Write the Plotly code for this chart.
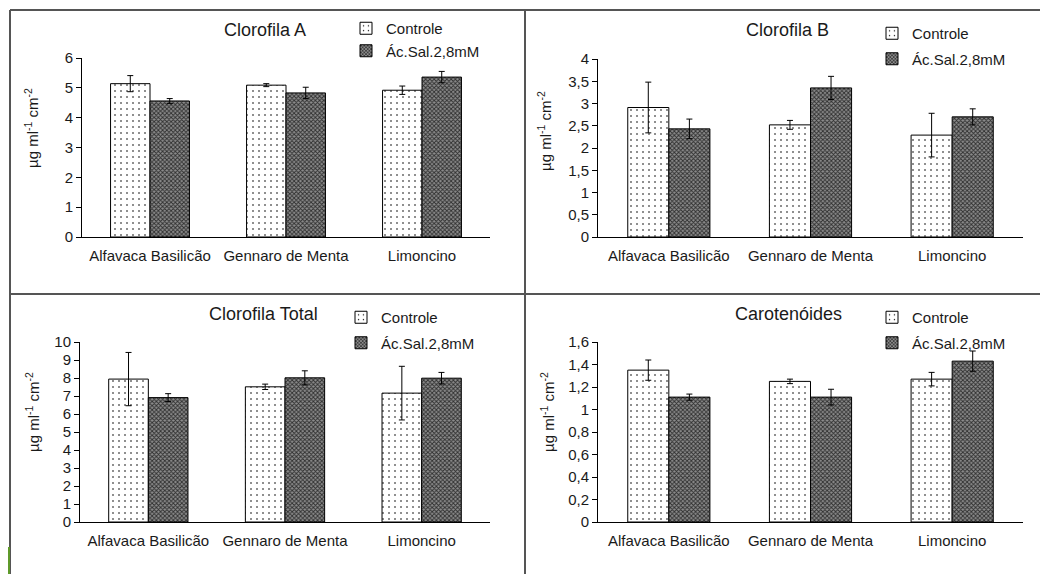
import plotly.graph_objects as go

W, H = 1040, 574

categories = ["Alfavaca Basilicão", "Gennaro de Menta", "Limoncino"]
series_names = ["Controle", "Ác.Sal.2,8mM"]
titles = ["Clorofila A", "Clorofila B", "Clorofila Total", "Carotenóides"]
y_title = "µg ml<sup>-1</sup> cm<sup>-2</sup>"

clA_ctrl = [5.14, 5.09, 4.92]
clA_ctrl_err = [0.27, 0.05, 0.14]
clA_sal = [4.56, 4.83, 5.36]
clA_sal_err = [0.08, 0.19, 0.19]

clB_ctrl = [2.91, 2.52, 2.29]
clB_ctrl_err = [0.57, 0.10, 0.49]
clB_sal = [2.43, 3.35, 2.70]
clB_sal_err = [0.22, 0.26, 0.18]

clT_ctrl = [7.94, 7.51, 7.16]
clT_ctrl_err = [1.48, 0.15, 1.49]
clT_sal = [6.91, 8.01, 7.99]
clT_sal_err = [0.22, 0.39, 0.32]

car_ctrl = [1.35, 1.25, 1.27]
car_ctrl_err = [0.09, 0.02, 0.06]
car_sal = [1.11, 1.11, 1.43]
car_sal_err = [0.027, 0.07, 0.09]

y_ranges = [[0, 6], [0, 4], [0, 10], [0, 1.6]]
y_dticks = [1, 0.5, 1, 0.2]

panels = [
    (clA_ctrl, clA_ctrl_err, clA_sal, clA_sal_err),
    (clB_ctrl, clB_ctrl_err, clB_sal, clB_sal_err),
    (clT_ctrl, clT_ctrl_err, clT_sal, clT_sal_err),
    (car_ctrl, car_ctrl_err, car_sal, car_sal_err),
]

# layout geometry in pixels (left, right, top, bottom)
dom_px = [(82, 490, 58, 237), (598, 1023, 59, 237), (80, 490, 342, 522), (598, 1023, 342, 522)]
title_px = [(265, 30), (787, 30), (263, 314), (788, 314)]
ytitle_px = [(32, 128), (544, 131), (32, 412), (547, 412)]
legend_px = [(346, 12), (872, 17), (341, 301), (872, 301)]
legend_gap = [0, 3, 3, 3]

FONT = "Liberation Sans, Arial, sans-serif"
TXT = "#1a1a1a"

fig = go.Figure()

ctrl_pattern = dict(shape=".", size=6, solidity=0.06, fgcolor="#000000", bgcolor="#ffffff", fillmode="replace")
sal_pattern = dict(shape="x", size=3, solidity=0.5, fgcolor="#2e2e2e", bgcolor="#8c8c8c", fillmode="replace")

for i, (c, ce, s, se) in enumerate(panels):
    n = i + 1
    xa = "x" if n == 1 else f"x{n}"
    ya = "y" if n == 1 else f"y{n}"
    lg = "legend" if n == 1 else f"legend{n}"
    fig.add_trace(go.Bar(
        x=categories, y=c, name=series_names[0], xaxis=xa, yaxis=ya, legend=lg,
        legendgroup=f"c{n}",
        marker=dict(color="#ffffff", line=dict(color="#000000", width=1), pattern=ctrl_pattern),
        error_y=dict(type="data", array=ce, color="#000000", thickness=1, width=3),
    ))
    fig.add_trace(go.Bar(
        x=categories, y=s, name=series_names[1], xaxis=xa, yaxis=ya, legend=lg,
        legendgroup=f"s{n}",
        marker=dict(color="#8c8c8c", line=dict(color="#000000", width=1), pattern=sal_pattern),
        error_y=dict(type="data", array=se, color="#000000", thickness=1, width=3),
    ))

layout = dict(
    width=W, height=H,
    margin=dict(l=0, r=0, t=0, b=0, pad=0, autoexpand=False),
    paper_bgcolor="#ffffff", plot_bgcolor="#ffffff",
    barmode="group", bargap=0.42, bargroupgap=0,
    separators=", ",
    font=dict(family=FONT, size=15, color=TXT),
    showlegend=True,
)

annotations = []
shapes = []
for i in range(4):
    n = i + 1
    l, r, t, b = dom_px[i]
    xk = "xaxis" if n == 1 else f"xaxis{n}"
    yk = "yaxis" if n == 1 else f"yaxis{n}"
    layout[xk] = dict(
        domain=[l / W, r / W], anchor="y" if n == 1 else f"y{n}",
        range=[-0.5, 2.5], showline=True, linecolor="#000000", linewidth=1,
        ticks="", showgrid=False, zeroline=False, ticklabelstandoff=5,
        tickfont=dict(size=15, color=TXT), fixedrange=True, automargin=False,
    )
    layout[yk] = dict(
        domain=[1 - b / H, 1 - t / H], anchor="x" if n == 1 else f"x{n}",
        range=y_ranges[i], dtick=y_dticks[i], tick0=0,
        showline=True, linecolor="#000000", linewidth=1,
        ticks="outside", ticklen=5, tickcolor="#000000", showgrid=False, zeroline=False,
        tickfont=dict(size=15, color=TXT), automargin=False, fixedrange=True,
    )
    lk = "legend" if n == 1 else f"legend{n}"
    lx, ly = legend_px[i]
    layout[lk] = dict(
        x=lx / W, y=1 - ly / H, xanchor="left", yanchor="top",
        bgcolor="rgba(0,0,0,0)", font=dict(size=15, color=TXT),
        tracegroupgap=legend_gap[i], itemwidth=30,
    )
    tx, ty = title_px[i]
    annotations.append(dict(
        text=titles[i], x=tx / W, y=1 - ty / H, xref="paper", yref="paper",
        xanchor="center", yanchor="middle", showarrow=False,
        font=dict(size=18, color=TXT),
    ))
    yx, yy = ytitle_px[i]
    annotations.append(dict(
        text=y_title, x=yx / W, y=1 - yy / H, xref="paper", yref="paper",
        xanchor="center", yanchor="middle", showarrow=False, textangle=-90,
        font=dict(size=15, color=TXT),
    ))

border = "#555555"
for (x0, y0, x1, y1) in [(10, 10, 1040, 10), (10, 294, 1040, 294), (10, 10, 10, 574), (525, 10, 525, 574)]:
    shapes.append(dict(type="line", xref="paper", yref="paper",
                       x0=x0 / W, x1=x1 / W, y0=1 - y0 / H, y1=1 - y1 / H,
                       line=dict(color=border, width=2)))
shapes.append(dict(type="line", xref="paper", yref="paper",
                   x0=9 / W, x1=9 / W, y0=1 - 547 / H, y1=0,
                   line=dict(color="#5f9a2a", width=2)))

layout["annotations"] = annotations
layout["shapes"] = shapes
fig.update_layout(**layout)

fig.write_html(
    "out.html",
    config={"displayModeBar": False},
    post_script="document.body.style.margin='0';document.body.style.overflow='hidden';",
)
